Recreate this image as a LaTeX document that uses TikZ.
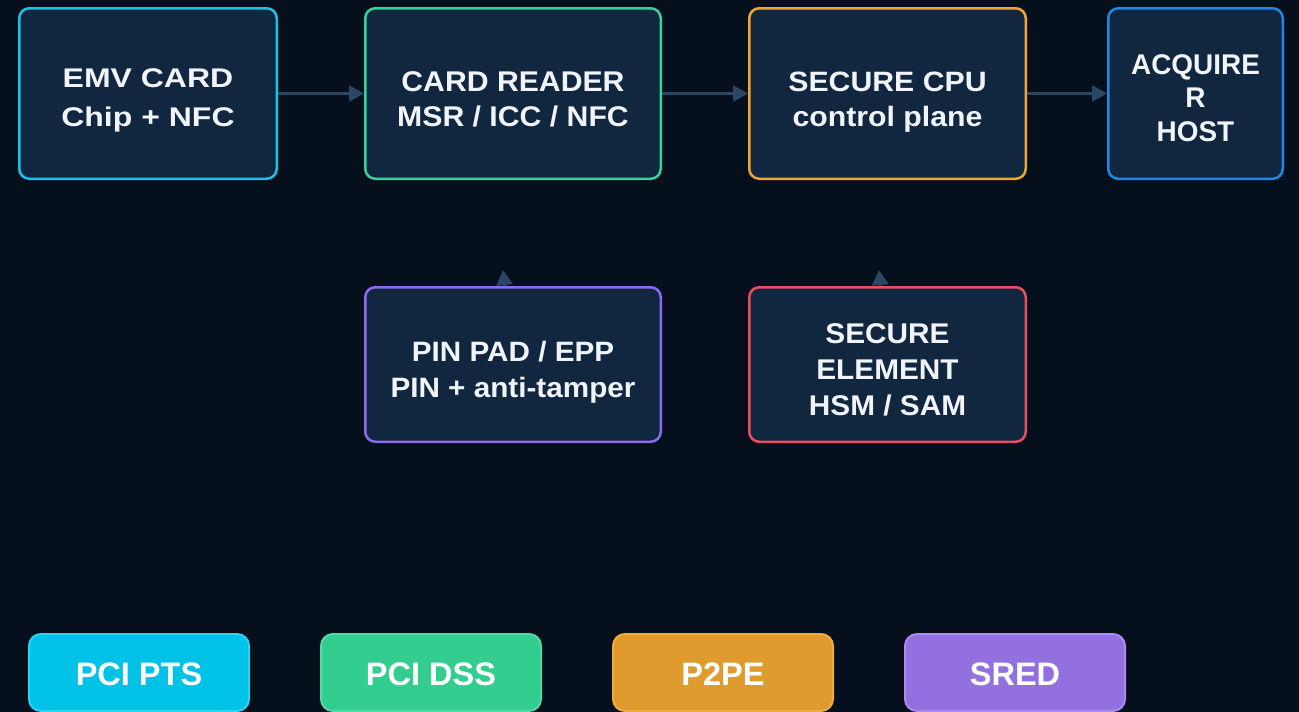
\documentclass[tikz,border=0pt]{standalone}
\usepackage{fontspec}
\usepackage{graphicx}
\setmainfont{Liberation Sans}
\usetikzlibrary{arrows.meta}
\definecolor{bgc}{HTML}{060F1C}
\definecolor{boxfill}{HTML}{11263F}
\definecolor{txt}{HTML}{F1F5FB}
\definecolor{arrc}{HTML}{2B4763}
\definecolor{ccyan}{HTML}{19C3E6}
\definecolor{cgreen}{HTML}{34D399}
\definecolor{corange}{HTML}{EFA630}
\definecolor{cblue}{HTML}{1E88E5}
\definecolor{cpurple}{HTML}{8B6CF0}
\definecolor{cred}{HTML}{E84F5E}
\definecolor{fcyan}{HTML}{00C2E6}
\definecolor{lcyan}{HTML}{2AD4F2}
\definecolor{fgreen}{HTML}{33CD90}
\definecolor{lgreen}{HTML}{4EDBA6}
\definecolor{forange}{HTML}{E09B2F}
\definecolor{lorange}{HTML}{F0AC3C}
\definecolor{fpurple}{HTML}{9370E0}
\definecolor{lpurple}{HTML}{A88AF0}
% #1 vertical shift, #2 horizontal scale, #3 lines
\newcommand\shiftlines[3]{\raisebox{#1}[\height][\depth]{\scalebox{#2}[1]{\begin{tabular}{@{}c@{}}#3\end{tabular}}}}
\pgfdeclarelayer{back}
\pgfdeclarelayer{arrlayer}
\pgfsetlayers{back,arrlayer,main}
\tikzset{
  blk/.style={draw=#1, fill=boxfill, line width=2.5pt, rounded corners=10pt,
    text=txt, font=\bfseries\fontsize{28}{35}\selectfont, inner sep=0pt},
  badge/.style={draw=#1, line width=2pt, rounded corners=12pt, minimum width=220pt,
    minimum height=77pt, anchor=north, text=white, inner sep=0pt,
    font=\bfseries\fontsize{32.5}{36}\selectfont},
  arr/.style={draw=arrc, line width=2.5pt, -{Triangle[length=15pt,width=16pt]}}
}
\begin{document}
\begin{tikzpicture}[x=1pt,y=-1pt]
\begin{pgfonlayer}{back}
\fill[bgc] (0,0) rectangle (1299,712);
\end{pgfonlayer}
\useasboundingbox (0,0) rectangle (1299,712);
\node[blk=ccyan, minimum width=257.5pt, minimum height=170.5pt,
  font=\bfseries\fontsize{27}{39.4}\selectfont] (emv) at (148,93.5)
  {\shiftlines{-5.6pt}{1.185}{EMV CARD\\Chip + NFC}};
\node[blk=cgreen, minimum width=295.5pt, minimum height=170.5pt,
  font=\bfseries\fontsize{28.5}{35}\selectfont] (reader) at (513,93.5)
  {\shiftlines{-8.7pt}{1.06}{CARD READER\\MSR / ICC / NFC}};
\node[blk=corange, minimum width=276.5pt, minimum height=170.5pt,
  font=\bfseries\fontsize{28}{35}\selectfont] (cpu) at (887.5,93.5)
  {\shiftlines{-8.7pt}{1.08}{SECURE CPU\\control plane}};
\node[blk=cblue, minimum width=174.5pt, minimum height=170.5pt,
  font=\bfseries\fontsize{28.5}{33.5}\selectfont] (acq) at (1195.5,93.5)
  {\shiftlines{-7.3pt}{0.98}{ACQUIRE\\R\\HOST}};
\node[blk=cpurple, minimum width=295.5pt, minimum height=154.5pt,
  font=\bfseries\fontsize{28}{36}\selectfont] (pin) at (513,364.5)
  {\shiftlines{-8pt}{1.06}{PIN PAD / EPP\\PIN + anti-tamper}};
\node[blk=cred, minimum width=276.5pt, minimum height=154.5pt,
  font=\bfseries\fontsize{28.5}{35.85}\selectfont] (se) at (887.5,364.5)
  {\shiftlines{-7.5pt}{1.045}{SECURE\\ELEMENT\\HSM / SAM}};
\coordinate (pintip) at (503,270);
\coordinate (setip) at (879,270);
\begin{pgfonlayer}{arrlayer}
\draw[arr] (emv.east) -- (reader.west);
\draw[arr] (reader.east) -- (cpu.west);
\draw[arr] (cpu.east) -- (acq.west);
\draw[arr] (pin.center) -- (pintip);
\draw[arr] (se.center) -- (setip);
\end{pgfonlayer}
\node[badge=lcyan, fill=fcyan] (pts) at (139,633) {\raisebox{-1.8pt}[\height][\depth]{PCI PTS}};
\node[badge=lgreen, fill=fgreen] (dss) at (431,633) {\raisebox{-1.8pt}[\height][\depth]{PCI DSS}};
\node[badge=lorange, fill=forange] (p2pe) at (723,633) {\raisebox{-1.8pt}[\height][\depth]{P2PE}};
\node[badge=lpurple, fill=fpurple] (sred) at (1015,633) {\raisebox{-1.8pt}[\height][\depth]{SRED}};
\end{tikzpicture}
\end{document}
